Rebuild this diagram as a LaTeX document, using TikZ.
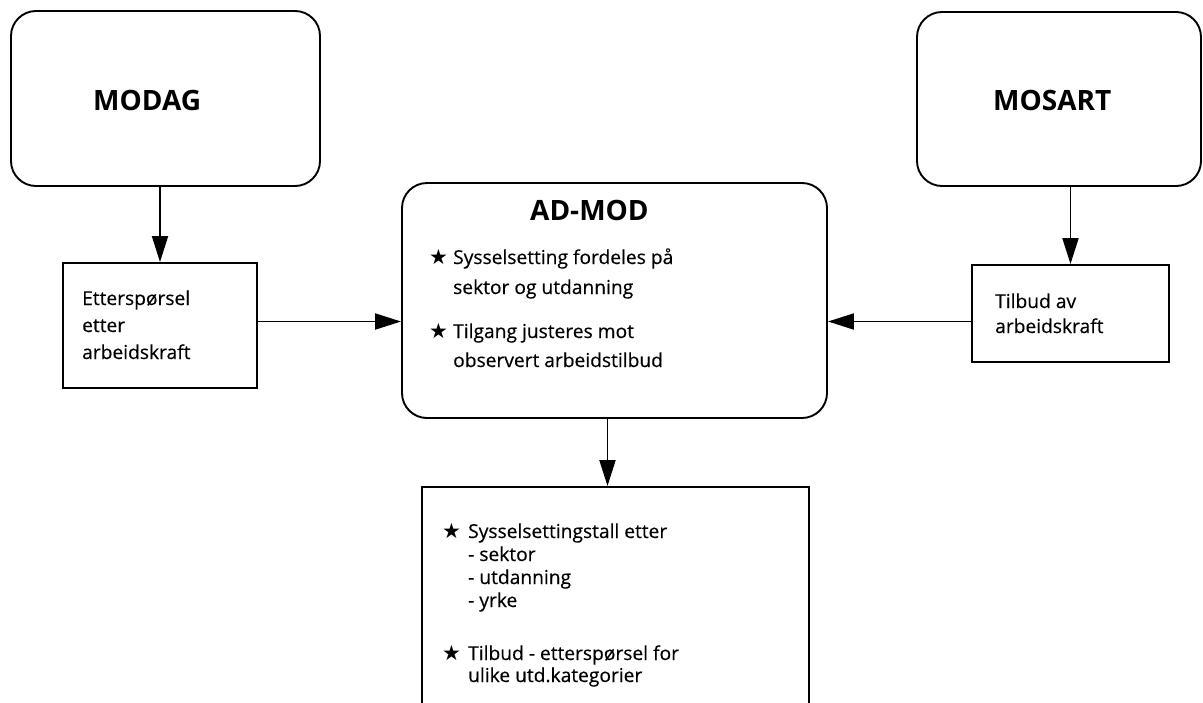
\documentclass[tikz,border=0pt]{standalone}
\usepackage{fontspec}
\setmainfont{Open Sans}
\newfontfamily\txtfont{Open Sans}[FakeBold=0.4]
\newfontfamily\symfont{DejaVu Sans}
\usetikzlibrary{arrows.meta}
\begin{document}
\begin{tikzpicture}[x=1pt,y=-1pt,
  box/.style={draw,line width=1.9pt,inner sep=0pt},
  rbox/.style={box,rounded corners=25pt},
  arr/.style={line width=1.9pt,-{Triangle[length=26pt,width=16pt]}},
  title/.style={font=\fontsize{28}{32}\selectfont\bfseries,anchor=base west,inner sep=0pt},
  txt/.style={font=\txtfont\fontsize{19.2}{27}\selectfont,anchor=base west,inner sep=0pt,align=left},
  star/.style={font=\symfont\fontsize{21}{22}\selectfont,anchor=base west,inner sep=0pt},
]
\useasboundingbox (0,0) rectangle (1203,702);
\clip (0,0) rectangle (1203,702);
% boxes
\node[rbox,minimum width=309pt,minimum height=175pt] (modag) at (165.5,98.5) {};
\node[rbox,minimum width=284pt,minimum height=174pt] (mosart) at (1059,99) {};
\node[rbox,minimum width=425pt,minimum height=235pt] (admod) at (614.5,300.5) {};
\node[box,minimum width=194pt,minimum height=125pt] (ett) at (160,325.5) {};
\node[box,minimum width=197pt,minimum height=97pt] (tilb) at (1070.5,313.5) {};
\node[box,minimum width=387pt,minimum height=300pt] (out) at (615.5,637) {};
% titles
\node[title] (tmodag) at (93,110) {MODAG};
\node[title] (tmosart) at (993,110) {MOSART};
\node[title] (tadmod) at (530,220) {AD-MOD};
% texts (anchored at the baseline of the last line)
\node[txt] (tett) at (82,359) {Etterspørsel\\etter\\arbeidskraft};
\node[txt,font=\txtfont\fontsize{19.2}{25}\selectfont] (ttilb) at (995,333) {Tilbud av\\arbeidskraft};
\node[star] (s1) at (429,264) {★};
\node[txt,font=\txtfont\fontsize{19.2}{30}\selectfont] (a1) at (453,294) {Sysselsetting fordeles på\\sektor og utdanning};
\node[star] (s2) at (429,338) {★};
\node[txt,font=\txtfont\fontsize{19.2}{29}\selectfont] (a2) at (453,367) {Tilgang justeres mot\\observert arbeidstilbud};
\node[star] (s3) at (442,538) {★};
\node[txt,font=\txtfont\fontsize{19.2}{23}\selectfont] (o1) at (468,607) {Sysselsettingstall etter\\- sektor\\- utdanning\\- yrke};
\node[star] (s4) at (442,660) {★};
\node[txt,font=\txtfont\fontsize{19.2}{22}\selectfont] (o2) at (468,682) {Tilbud - etterspørsel for\\ulike utd.kategorier};
% arrows
\draw[arr] (ett.north |- modag.south) -- (ett.north);
\draw[arr] (tilb.north |- mosart.south) -- (tilb.north);
\draw[arr] ([yshift=4pt]ett.east) -- ([yshift=4pt]ett.east -| admod.west);
\draw[arr] ([yshift=-8pt]tilb.west) -- ([yshift=-8pt]tilb.west -| admod.east);
\draw[arr] ([xshift=-7pt]admod.south) -- ([xshift=-7pt]admod.south |- out.north);
\end{tikzpicture}
\end{document}
